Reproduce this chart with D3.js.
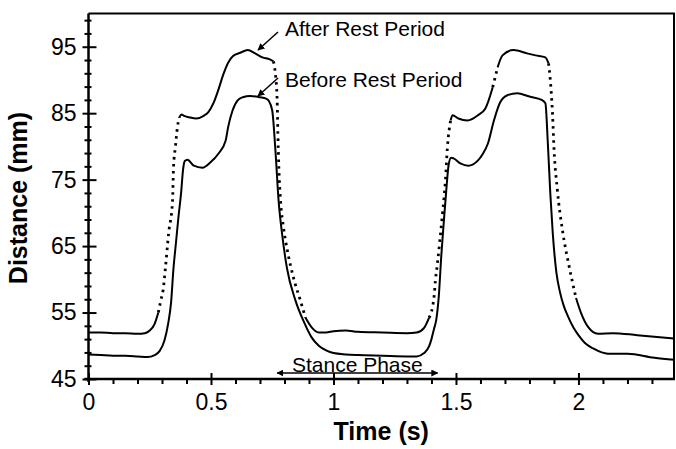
<!DOCTYPE html>
<html lang="en">
<head>
  <meta charset="utf-8" />
  <title>Distance before and after rest</title>
  <script src="https://d3js.org/d3.v7.min.js"></script>
  <style>
    body { margin: 0; background: #fff; }
    text { font-family: "Liberation Sans", Arial, sans-serif; fill: #000; }
  </style>
</head>

<body>
  <div id="chart"></div>

  <script>
    /* data: time (s) and distance (mm) */
    var beforeTime = [0, 0.05, 0.10, 0.15, 0.20, 0.24, 0.27, 0.29, 0.31, 0.325, 0.337, 0.347,
      0.357, 0.367, 0.378, 0.386, 0.393, 0.404, 0.43, 0.465, 0.498, 0.53, 0.56, 0.57, 0.588,
      0.608, 0.63, 0.66, 0.70, 0.725, 0.735, 0.75, 0.763, 0.776, 0.79, 0.81, 0.845, 0.878,
      0.91, 0.94, 0.97, 1.00, 1.05, 1.10, 1.20, 1.30, 1.34, 1.37, 1.39, 1.40, 1.41, 1.42,
      1.43, 1.44, 1.45, 1.46, 1.47, 1.48, 1.49, 1.52, 1.55, 1.59, 1.61, 1.63, 1.655, 1.68,
      1.71, 1.75, 1.80, 1.85, 1.865, 1.875, 1.885, 1.895, 1.91, 1.925, 1.94, 1.955, 1.98,
      2.00, 2.03, 2.06, 2.12, 2.20, 2.31, 2.39];
    var beforeDist = [48.7, 48.6, 48.5, 48.5, 48.4, 48.3, 48.6, 49.2, 50.8, 53.3, 56.5, 61.7,
      65.5, 69.3, 73.0, 76.5, 77.8, 78.0, 77.1, 76.8, 77.6, 78.9, 80.9, 82.9, 85.4,
      86.9, 87.4, 87.6, 87.4, 87.2, 86.9, 85.4, 79.4, 71.8, 66.9, 61.7, 56.8, 53.7,
      51.3, 50.0, 49.3, 48.9, 48.7, 48.6, 48.5, 48.4, 48.4, 48.9, 49.9, 51.0, 52.5, 54.0,
      57.5, 63.5, 68.5, 73.2, 77.2, 78.3, 78.2, 77.4, 77.1, 77.9, 78.9, 80.4, 83.9, 86.6,
      87.7, 88.0, 87.5, 87.0, 86.5, 80.5, 73.0, 67.0, 61.0, 58.0, 56.0, 54.6, 52.7,
      51.6, 50.3, 49.6, 48.8, 48.8, 48.2, 47.9];

    var afterTime = [0, 0.05, 0.10, 0.15, 0.20, 0.23, 0.25, 0.27, 0.285, 0.295, 0.305, 0.314,
      0.327, 0.343, 0.347, 0.355, 0.363, 0.371, 0.38, 0.39, 0.41, 0.44, 0.47, 0.49, 0.51,
      0.53, 0.55, 0.57, 0.59, 0.62, 0.65, 0.68, 0.71, 0.74, 0.755, 0.762, 0.770, 0.773,
      0.777, 0.784, 0.796, 0.812, 0.837, 0.865, 0.886, 0.91, 0.94, 0.97, 1.00, 1.05, 1.10,
      1.20, 1.30, 1.34, 1.37, 1.39, 1.41, 1.416, 1.424, 1.445, 1.457, 1.465, 1.478, 1.486,
      1.51, 1.547, 1.59, 1.62, 1.65, 1.67, 1.69, 1.735, 1.79, 1.825, 1.865, 1.878, 1.885,
      1.894, 1.90, 1.914, 1.935, 1.96, 1.99, 2.01, 2.04, 2.08, 2.14, 2.24, 2.39];
    var afterDist = [52.0, 52.0, 51.9, 51.9, 51.8, 51.9, 52.3, 53.3, 55.0, 56.8, 58.5, 61.7,
      66.9, 71.8, 76.8, 80.0, 82.9, 84.4, 84.8, 84.6, 84.4, 84.2, 84.6, 85.2, 86.5,
      88.5, 90.8, 92.6, 93.6, 94.1, 94.5, 94.0, 93.4, 93.1, 92.8, 91.2, 87.0, 82.0,
      76.8, 71.8, 67.8, 64.3, 60.2, 56.8, 54.2, 52.8, 52.0, 52.0, 52.2, 52.3, 52.1,
      52.0, 51.9, 52.0, 52.7, 54.2, 57.2, 59.8, 62.3, 69.9, 74.9, 79.8, 83.9, 84.7,
      84.2, 83.9, 84.7, 85.7, 88.9, 91.9, 93.7, 94.5, 94.0, 93.7, 93.4, 92.5, 90.0,
      85.0, 79.8, 73.4, 67.3, 62.3, 57.2, 55.0, 52.8, 51.8, 51.9, 51.6, 51.1];

    var yMajor = [45, 55, 65, 75, 85, 95];
    var yMinor = [47, 49, 51, 53, 57, 59, 61, 63, 67, 69, 71, 73, 77, 79, 81, 83, 87, 89, 91, 93, 97, 99];
    var xMajor = [0, 0.5, 1, 1.5, 2];
    var xMinor = [0.1, 0.2, 0.3, 0.4, 0.6, 0.7, 0.8, 0.9, 1.1, 1.2, 1.3, 1.4,
      1.6, 1.7, 1.8, 1.9, 2.1, 2.2, 2.3];

    var stanceStart = 0.77, stanceEnd = 1.425;

    // svg
    var svg = d3.select("#chart")
                .append("svg")
                .attr("width", 676)
                .attr("height", 449);

    var x = d3.scaleLinear().domain([0, 2.39]).range([88.5, 674]);
    var y = d3.scaleLinear().domain([45, 100]).range([379, 13.5]);

    svg.append("defs").append("marker")
       .attr("id", "head")
       .attr("viewBox", "0 0 10 10")
       .attr("refX", 9).attr("refY", 5)
       .attr("markerWidth", 7).attr("markerHeight", 7)
       .attr("markerUnits", "userSpaceOnUse")
       .attr("orient", "auto-start-reverse")
       .append("path")
       .attr("d", "M0,0 L10,5 L0,10 Z")
       .attr("fill", "#000");

    // frame top and right
    svg.append("line")
       .attr("x1", x(0)).attr("x2", 675)
       .attr("y1", y(100)).attr("y2", y(100))
       .attr("stroke", "#000").attr("stroke-width", 2);
    svg.append("line")
       .attr("x1", 674).attr("x2", 674)
       .attr("y1", y(100)).attr("y2", y(45))
       .attr("stroke", "#000").attr("stroke-width", 2);

    // axes: ticks outward and inward
    function styleAxis(g) {
      g.select(".domain").remove();
      g.selectAll(".tick line").attr("stroke", "#000").attr("stroke-width", 2);
      g.selectAll(".tick text").style("font-size", "23px")
       .style("font-family", "'Liberation Sans', Arial, sans-serif").attr("fill", "#000");
    }

    svg.append("g").attr("transform", "translate(" + x(0) + ",0)")
       .call(d3.axisLeft(y).tickValues(yMajor).tickSize(6).tickPadding(6).tickFormat(d3.format("d")))
       .call(styleAxis);
    svg.append("g").attr("transform", "translate(" + x(0) + ",0)")
       .call(d3.axisRight(y).tickValues(yMajor).tickSize(8).tickFormat(""))
       .call(styleAxis);
    svg.append("g").attr("transform", "translate(" + x(0) + ",0)")
       .call(d3.axisLeft(y).tickValues(yMinor).tickSize(4).tickFormat(""))
       .call(styleAxis);
    svg.append("g").attr("transform", "translate(" + x(0) + ",0)")
       .call(d3.axisRight(y).tickValues(yMinor).tickSize(3).tickFormat(""))
       .call(styleAxis);

    svg.append("g").attr("transform", "translate(0," + y(45) + ")")
       .call(d3.axisBottom(x).tickValues(xMajor).tickSize(6).tickPadding(9).tickFormat(d3.format("")))
       .call(styleAxis);
    svg.append("g").attr("transform", "translate(0," + y(45) + ")")
       .call(d3.axisTop(x).tickValues(xMajor).tickSize(6).tickFormat(""))
       .call(styleAxis);
    svg.append("g").attr("transform", "translate(0," + y(45) + ")")
       .call(d3.axisBottom(x).tickValues(xMinor).tickSize(5).tickFormat(""))
       .call(styleAxis);

    // axis lines
    svg.append("line")
       .attr("x1", x(0)).attr("x2", x(0))
       .attr("y1", y(100)).attr("y2", y(45) + 3)
       .attr("stroke", "#000").attr("stroke-width", 2.5);
    svg.append("line")
       .attr("x1", x(0) - 4).attr("x2", 675)
       .attr("y1", y(45)).attr("y2", y(45))
       .attr("stroke", "#000").attr("stroke-width", 2.5);

    var line = d3.line()
                 .curve(d3.curveMonotoneX)
                 .x(function(d) { return x(d[0]); })
                 .y(function(d) { return y(d[1]); });

    // before rest: solid
    var before = beforeTime.map(function(t, i) { return [t, beforeDist[i]]; });
    svg.append("path")
       .attr("d", line(before))
       .attr("fill", "none")
       .attr("stroke", "#000")
       .attr("stroke-width", 2)
       .attr("stroke-linejoin", "round");

    // after rest: sparse samples look dotted where the curve is steep
    var after = afterTime.map(function(t, i) { return [t, afterDist[i]]; });
    var runs = [];
    for (var i = 1; i < after.length; i++) {
      var dx = x(after[i][0]) - x(after[i - 1][0]);
      var dy = Math.abs(y(after[i][1]) - y(after[i - 1][1]));
      var steep = dy > 3.2 * dx;
      var last = runs[runs.length - 1];
      if (last && last.steep === steep) {
        last.pts.push(after[i]);
      } else {
        runs.push({ steep: steep, pts: [after[i - 1], after[i]] });
      }
    }
    svg.selectAll(".afterRun")
       .data(runs)
       .enter()
       .append("path")
       .attr("class", "afterRun")
       .attr("d", function(d) { return line(d.pts); })
       .attr("fill", "none")
       .attr("stroke", "#000")
       .attr("stroke-width", function(d) { return d.steep ? 2.8 : 2; })
       .attr("stroke-dasharray", function(d) { return d.steep ? "2.5,4.5" : null; })
       .attr("stroke-linejoin", "round");

    // annotations
    svg.append("line")
       .attr("x1", 278).attr("y1", 32).attr("x2", 258).attr("y2", 50)
       .attr("stroke", "#000").attr("stroke-width", 1.5)
       .attr("marker-end", "url(#head)");
    svg.append("text")
       .attr("x", 285).attr("y", 36)
       .style("font-size", "21px")
       .text("After Rest Period");

    svg.append("line")
       .attr("x1", 278).attr("y1", 78).attr("x2", 258).attr("y2", 96)
       .attr("stroke", "#000").attr("stroke-width", 1.5)
       .attr("marker-end", "url(#head)");
    svg.append("text")
       .attr("x", 285).attr("y", 87)
       .style("font-size", "21px")
       .text("Before Rest Period");

    // stance phase
    svg.append("line")
       .attr("x1", x(stanceStart)).attr("x2", x(stanceEnd))
       .attr("y1", 373).attr("y2", 373)
       .attr("stroke", "#000").attr("stroke-width", 1.5)
       .attr("marker-start", "url(#head)")
       .attr("marker-end", "url(#head)");
    svg.append("text")
       .attr("x", (x(stanceStart) + x(stanceEnd)) / 2).attr("y", 372)
       .attr("text-anchor", "middle")
       .style("font-size", "21px")
       .text("Stance Phase");

    // axis titles
    svg.append("text")
       .attr("x", (x(0) + 674) / 2).attr("y", 440)
       .attr("text-anchor", "middle")
       .style("font-size", "25px")
       .style("font-weight", "bold")
       .text("Time (s)");
    svg.append("text")
       .attr("transform", "translate(27,198) rotate(-90)")
       .attr("text-anchor", "middle")
       .style("font-size", "25px")
       .style("font-weight", "bold")
       .text("Distance (mm)");
  </script>
</body>
</html>
